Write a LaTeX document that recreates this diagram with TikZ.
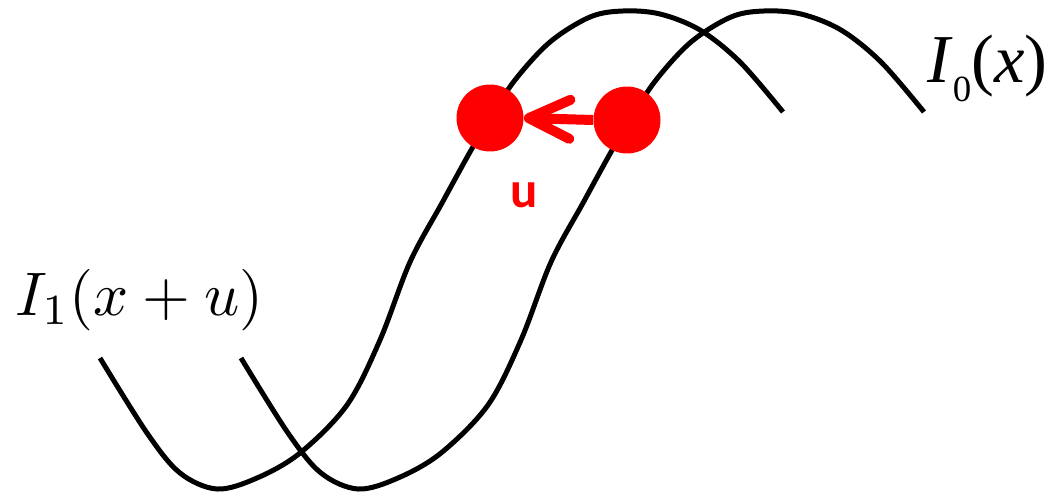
\documentclass[tikz,border=0pt]{standalone}
\usepackage{fontspec}
\usetikzlibrary{arrows.meta}
\newfontfamily\tnr{Liberation Serif}
\newfontfamily\carl{Carlito}
\tikzset{
  curve/.style={line width=0.1cm, black},
  dot/.style={circle, fill=red, inner sep=0pt, minimum size=1.34cm},
  shiftarrow/.style={red, line width=0.2cm, -{Straight Barb[length=0.82cm, width=0.78cm, round]}},
  wave/.pic={\draw[curve] plot[smooth, tension=0.55] coordinates {
    (100,358) (147,433) (180,473) (217,489) (257,478) (300,453) (347,405) (380,340)
    (410,262) (442,203) (470,152) (490,118) (515,80) (550,42) (590,17) (623,11)
    (660,14) (700,30) (740,62) (783,112)};}
}
\begin{document}
\begin{tikzpicture}[x=0.02cm, y=-0.02cm]
\useasboundingbox (0,0) rectangle (1053,496);
\pic (w1) at (0,0) {wave};
\pic (w0) at (141,0) {wave};
\node[dot] (p1) at (490,118) {};
\node[dot] (p0) at (627,120) {};
\draw[shiftarrow] (p0.west) -- (p1.east);
\node[red, font=\carl\bfseries\fontsize{29}{29}\selectfont, anchor=base] (u) at (524,208) {u};
\node[anchor=base west, inner sep=0pt] (l1) at (15,315) {\scalebox{3.5}{$I_1(x+u)$}};
\node[anchor=base west, inner sep=0pt, font=\tnr\fontsize{39}{39}\selectfont] (l0) at (927,83)
  {\textit{I}\raisebox{-0.38cm}{\fontsize{21}{21}\selectfont 0}(\textit{x})};
\end{tikzpicture}
\end{document}
